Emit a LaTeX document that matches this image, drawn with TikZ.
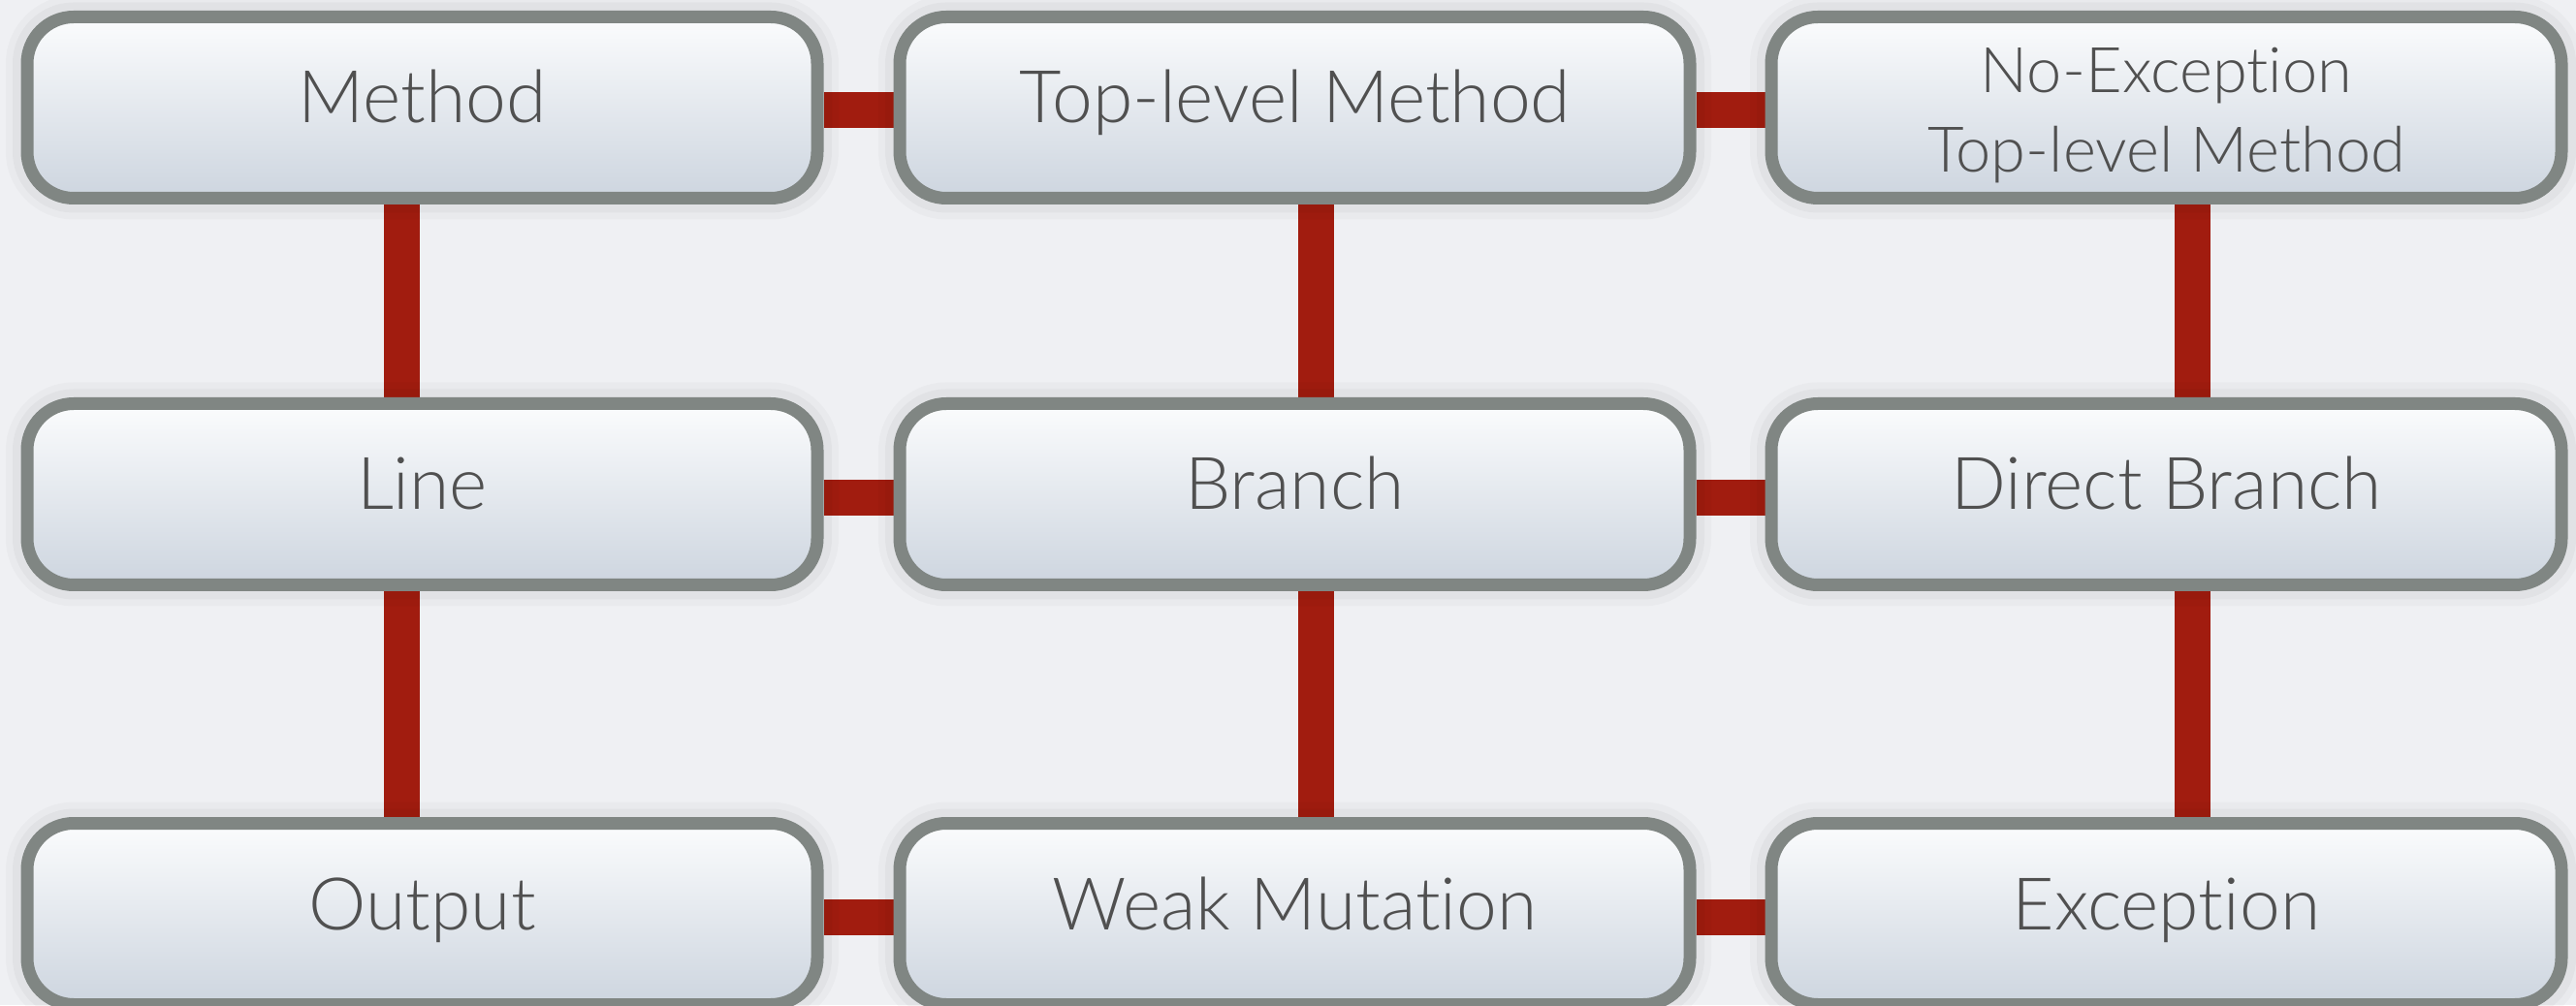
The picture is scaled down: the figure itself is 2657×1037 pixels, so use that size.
\documentclass[tikz,border=0pt]{standalone}
\usepackage{fontspec}
\setmainfont{Lato}[UprightFont=* Light, Ligatures=NoCommon, Contextuals=NoAlternate]
\usetikzlibrary{backgrounds}
\definecolor{bgc}{RGB}{239,240,243}
\definecolor{bordc}{RGB}{128,134,131}
\definecolor{topc}{RGB}{251,252,253}
\definecolor{botc}{RGB}{205,213,223}
\definecolor{redc}{RGB}{161,28,15}
\definecolor{txtc}{RGB}{80,80,80}
\begin{document}
\begin{tikzpicture}[x=1pt,y=1pt,
  basebox/.style={draw=bordc, line width=13pt, rounded corners=48pt,
    top color=topc, bottom color=botc, minimum width=815pt, minimum height=187pt,
    inner sep=0pt, text=txtc,
    preaction={draw=black, draw opacity=0.025, line width=44pt, fill opacity=0},
    preaction={draw=black, draw opacity=0.03, line width=30pt, fill opacity=0}},
  box/.style={basebox, font=\fontsize{75}{90}\selectfont, text height=44pt, text depth=12pt},
  twobox/.style={basebox, align=center, font=\fontsize{65}{82}\selectfont},
  conn/.style={draw=redc, line width=37pt}
]
\path[use as bounding box] (0,0) rectangle (2657,1037);
\begin{scope}[on background layer]
\fill[bgc] (0,0) rectangle (2657,1037);
\end{scope}
\node[box] (m)  at (435.5,926) {Method};
\node[box] (tm) at (1335.5,926) {Top-level Method};
\node[twobox] (nt) at (2234.5,926) {\rule{0pt}{62pt}No-Exception\\Top-level Method};
\node[box] (l)  at (435.5,527) {Line};
\node[box] (b)  at (1335.5,527) {Branch};
\node[box] (db) at (2234.5,527) {Direct Branch};
\node[box] (o)  at (435.5,94) {Output};
\node[box] (w)  at (1335.5,94) {Weak Mutation};
\node[box] (e)  at (2234.5,94) {Exception};
\begin{scope}[on background layer]
\draw[conn] ([yshift=-3pt]m.east) -- ([yshift=-3pt]tm.west);
\draw[conn] ([yshift=-3pt]tm.east) -- ([yshift=-3pt]nt.west);
\draw[conn] ([yshift=-4pt]l.east) -- ([yshift=-4pt]b.west);
\draw[conn] ([yshift=-4pt]b.east) -- ([yshift=-4pt]db.west);
\draw[conn] ([yshift=-3pt]o.east) -- ([yshift=-3pt]w.west);
\draw[conn] ([yshift=-3pt]w.east) -- ([yshift=-3pt]e.west);
\draw[conn] ([xshift=-21pt]m.south) -- ([xshift=-21pt]l.north);
\draw[conn] ([xshift=-21pt]l.south) -- ([xshift=-21pt]o.north);
\draw[conn] ([xshift=21.5pt]tm.south) -- ([xshift=21.5pt]b.north);
\draw[conn] ([xshift=21.5pt]b.south) -- ([xshift=21.5pt]w.north);
\draw[conn] ([xshift=26.5pt]nt.south) -- ([xshift=26.5pt]db.north);
\draw[conn] ([xshift=26.5pt]db.south) -- ([xshift=26.5pt]e.north);
\end{scope}
\end{tikzpicture}
\end{document}
